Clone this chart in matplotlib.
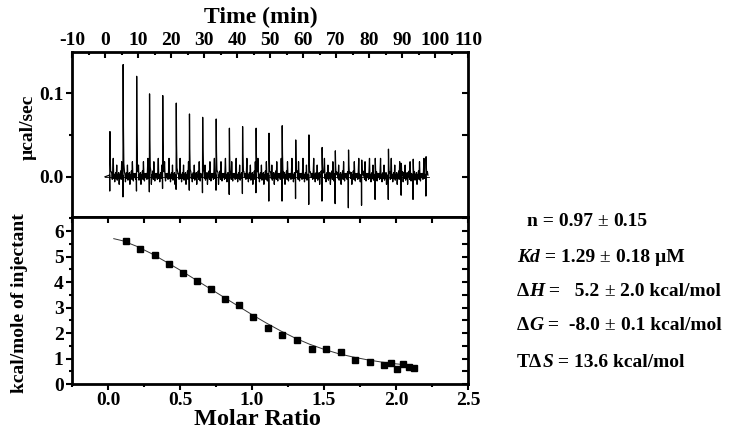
import matplotlib
matplotlib.use("Agg")
import matplotlib.pyplot as plt
from matplotlib.ticker import MultipleLocator, FormatStrFormatter
import numpy as np

plt.rcParams['font.family'] = ['Liberation Serif', 'DejaVu Serif']
plt.rcParams['font.weight'] = 'bold'
plt.rcParams['axes.unicode_minus'] = False

# raw thermogram: injection times (min), peak heights and dips (ucal/sec)
inj_time = [1.5, 5.5, 9.6, 13.5, 17.5, 21.6, 25.6, 29.6, 33.7, 37.7, 41.7, 45.8, 49.7,
            53.7, 57.8, 61.8, 65.8, 69.8, 73.8, 77.8, 81.9, 85.9, 89.8, 93.4, 97.3]
inj_peak = [0.054, 0.134, 0.120, 0.099, 0.097, 0.088, 0.075, 0.071, 0.069, 0.058, 0.060, 0.058, 0.052,
            0.061, 0.044, 0.050, 0.035, 0.031, 0.032, 0.020, 0.022, 0.033, 0.016, 0.021, 0.024]
inj_dip = [-0.017, -0.024, -0.017, -0.018, -0.014, -0.015, -0.016, -0.019, -0.016, -0.021, -0.020, -0.019, -0.029,
           -0.029, -0.026, -0.033, -0.029, -0.032, -0.037, -0.034, -0.027, -0.027, -0.022, -0.027, -0.023]
# baseline wiggle between injections (ucal/sec), sampled every 0.15 min
wiggle = [0.004, -0.003, 0.006, 0.022, -0.002, 0.003, -0.006, 0.002, 0.005, -0.002,
          0.014, -0.004, 0.003, -0.002, 0.005, -0.009, 0.002, 0.001, 0.007, -0.003,
          0.018, 0.000, -0.005, 0.004, -0.001, 0.003]

# integrated heats
molar_ratio = [0.127, 0.225, 0.324, 0.421, 0.52, 0.616, 0.715, 0.815, 0.912, 1.01, 1.11, 1.21,
               1.31, 1.414, 1.514, 1.616, 1.717, 1.82, 1.92, 1.963, 2.005, 2.046, 2.088, 2.127]
heat = [5.61, 5.31, 5.06, 4.69, 4.37, 4.05, 3.74, 3.34, 3.08, 2.62, 2.20, 1.93,
        1.73, 1.39, 1.39, 1.26, 0.93, 0.86, 0.74, 0.83, 0.60, 0.78, 0.68, 0.61]
fit_x = [0.04, 0.1, 0.2, 0.3, 0.4, 0.5, 0.6, 0.7, 0.8, 0.9, 1.0, 1.1, 1.2,
         1.3, 1.4, 1.5, 1.6, 1.7, 1.8, 1.9, 2.0, 2.13]
fit_y = [5.70, 5.62, 5.40, 5.12, 4.80, 4.47, 4.12, 3.77, 3.42, 3.07, 2.72, 2.39, 2.08,
         1.80, 1.56, 1.36, 1.19, 1.06, 0.95, 0.86, 0.79, 0.72]

# build the trace from the injection list
tx, ty = [0.0], [0.0]
for i, (t, h, d) in enumerate(zip(inj_time, inj_peak, inj_dip)):
    tx += [t - 0.12, t - 0.06, t, t + 0.08, t + 0.2, t + 0.4]
    ty += [0.002, d, h, 0.45 * h, 0.12 * h, 0.006]
    nxt = inj_time[i + 1] if i + 1 < len(inj_time) else 98.2
    k = 0
    s = t + 0.55
    while s < nxt - 0.2:
        tx.append(s)
        ty.append(wiggle[(k + 5 * i) % len(wiggle)])
        s += 0.15
        k += 1

fig = plt.figure(figsize=(7.29, 4.36), dpi=100)
ax1 = fig.add_axes([72 / 729, 1 - 217 / 436, 396 / 729, 165 / 436])
ax2 = fig.add_axes([72 / 729, 1 - 384 / 436, 396 / 729, 167 / 436])

ax1.plot([0, 98.3], [0, 0], color='black', lw=0.6)
ax1.plot(tx, ty, color='black', lw=0.9)
ax1.set_xlim(-10, 110)
ax1.set_ylim(-0.048, 0.149)
ax1.xaxis.set_major_locator(MultipleLocator(10))
ax1.xaxis.set_minor_locator(MultipleLocator(5))
ax1.yaxis.set_major_locator(MultipleLocator(0.1))
ax1.yaxis.set_minor_locator(MultipleLocator(0.05))
ax1.yaxis.set_major_formatter(FormatStrFormatter('%.1f'))
ax1.tick_params(axis='x', which='both', direction='in', top=True, bottom=False,
                labeltop=True, labelbottom=False, width=1.5, pad=2)
ax1.tick_params(axis='x', which='major', length=4)
ax1.tick_params(axis='x', which='minor', length=2.5)
ax1.tick_params(axis='y', which='both', direction='out', left=True, right=False, width=1.5, pad=2)
ax1.tick_params(axis='y', which='major', length=4)
ax1.tick_params(axis='y', which='minor', length=2.5)
ax1r = ax1.secondary_yaxis('right')
ax1r.yaxis.set_major_locator(MultipleLocator(0.1))
ax1r.yaxis.set_minor_locator(MultipleLocator(0.05))
ax1r.tick_params(which='both', direction='in', labelright=False, width=1.5, length=4)
ax1r.spines['right'].set_visible(False)

ax2.plot(fit_x, fit_y, color='#333333', lw=0.7)
ax2.plot(molar_ratio, heat, 's', color='black', markersize=4.5)
ax2.set_xlim(-0.25, 2.5)
ax2.set_ylim(0, 6.55)
ax2.xaxis.set_major_locator(MultipleLocator(0.5))
ax2.xaxis.set_minor_locator(MultipleLocator(0.25))
ax2.yaxis.set_major_locator(MultipleLocator(1))
ax2.yaxis.set_minor_locator(MultipleLocator(0.5))
ax2.xaxis.set_major_formatter(FormatStrFormatter('%.1f'))
ax2.tick_params(axis='both', which='both', direction='out', width=1.5, pad=2)
ax2.tick_params(axis='both', which='major', length=4)
ax2.tick_params(axis='both', which='minor', length=2.5)
ax2.tick_params(axis='x', pad=2)
ax2t = ax2.secondary_xaxis('top')
ax2t.xaxis.set_major_locator(MultipleLocator(0.5))
ax2t.xaxis.set_minor_locator(MultipleLocator(0.25))
ax2t.tick_params(which='both', direction='in', labeltop=False, width=1.5, length=4)
ax2t.spines['top'].set_visible(False)
ax2r = ax2.secondary_yaxis('right')
ax2r.yaxis.set_major_locator(MultipleLocator(1))
ax2r.yaxis.set_minor_locator(MultipleLocator(0.5))
ax2r.tick_params(which='both', direction='in', labelright=False, width=1.5, length=4)
ax2r.spines['right'].set_visible(False)

for ax in (ax1, ax2):
    for sp in ax.spines.values():
        sp.set_linewidth(2)
    for lab in ax.get_xticklabels() + ax.get_yticklabels():
        lab.set_fontsize(14)
        lab.set_fontweight('bold')

def px(x, y):
    return x / 729, 1 - y / 436

fig.text(*px(261, 17), 'Time (min)', fontsize=17, fontweight='bold', ha='center', va='center')
fig.text(*px(257, 419), 'Molar Ratio', fontsize=17.5, fontweight='bold', ha='center', va='center')
fig.text(*px(28, 127), 'µcal/sec', fontsize=14, fontweight='bold', ha='center', va='center', rotation=90)
fig.text(*px(20, 303), 'kcal/mole of injectant', fontsize=14, fontweight='bold',
         ha='center', va='center', rotation=90)

# parameter box, drawn piece by piece so some parts can be italic
fig.canvas.draw()
renderer = fig.canvas.get_renderer()

def rich_line(x0, y0, parts):
    x = x0
    for s, style, weight in parts:
        t = fig.text(x / 729, 1 - y0 / 436, s, fontsize=14, fontweight=weight,
                     style=style, ha='left', va='center')
        w = t.get_window_extent(renderer).width
        x += w

pm = (' ± ', 'normal', 'normal')
params = [
    (527, 222, [('n = 0.97', 'normal', 'bold'), pm, ('0.15', 'normal', 'bold')]),
    (517, 257, [('Kd', 'italic', 'bold'), (' = 1.29', 'normal', 'bold'), pm,
                ('0.18 µM', 'normal', 'bold')]),
    (517, 291, [('Δ', 'normal', 'bold'), ('H', 'italic', 'bold'), (' =   5.2', 'normal', 'bold'), pm,
                ('2.0 kcal/mol', 'normal', 'bold')]),
    (517, 326, [('Δ', 'normal', 'bold'), ('G', 'italic', 'bold'), (' =  -8.0', 'normal', 'bold'), pm,
                ('0.1 kcal/mol', 'normal', 'bold')]),
    (517, 362, [('TΔ', 'normal', 'bold'), ('S', 'italic', 'bold'), (' = 13.6 kcal/mol', 'normal', 'bold')]),
]
for x0, y0, parts in params:
    rich_line(x0, y0, parts)

fig.savefig('out.png', dpi=100)
